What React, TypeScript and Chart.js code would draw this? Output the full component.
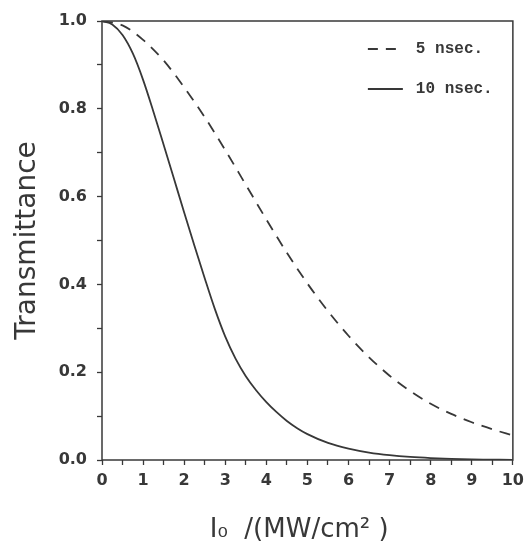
import React, { useEffect, useRef } from "react";
import { Chart, registerables } from "chart.js";

Chart.register(...registerables);

// ---- data ----
const intensity5ns = [0, 0.5, 1, 1.5, 2, 2.5, 3, 3.5, 4, 4.5, 5, 5.5, 6, 6.5, 7, 7.5, 8, 8.5, 9, 9.5, 10];
const trans5ns = [1.0, 0.99, 0.957, 0.91, 0.849, 0.781, 0.706, 0.627, 0.548, 0.472, 0.402, 0.339, 0.283, 0.234, 0.192, 0.157, 0.128, 0.105, 0.086, 0.07, 0.056];
const intensity10ns = [0, 0.25, 0.5, 0.75, 1, 1.25, 1.5, 1.75, 2, 2.25, 2.5, 2.75, 3, 3.25, 3.5, 3.75, 4, 4.25, 4.5, 4.75, 5, 5.5, 6, 6.5, 7, 7.5, 8, 9, 10];
const trans10ns = [1.0, 0.992, 0.968, 0.926, 0.866, 0.794, 0.718, 0.641, 0.564, 0.488, 0.414, 0.343, 0.281, 0.231, 0.191, 0.159, 0.132, 0.109, 0.089, 0.0725, 0.059, 0.039, 0.026, 0.017, 0.011, 0.007, 0.0045, 0.0015, 0.0005];
const seriesLabels = ["5 nsec.", "10 nsec."];
const xTitle = "I\u2080  /(MW/cm\u00B2 )  ";
const yTitle = "Transmittance";
const xRange = [0, 10];
const yRange = [0, 1];

const INK = "#383838";

const toPoints = (xs: number[], ys: number[]) => ys.map((y, i) => ({ x: xs[i], y }));

const frameAndLegend = {
  id: "frameAndLegend",
  afterDatasetsDraw(chart: any) {
    const { ctx, chartArea } = chart;
    ctx.save();
    ctx.strokeStyle = INK;
    ctx.lineWidth = 1.5;
    ctx.setLineDash([]);
    ctx.strokeRect(chartArea.left, chartArea.top, chartArea.right - chartArea.left, chartArea.bottom - chartArea.top);
    chart.data.datasets.forEach((ds: any, i: number) => {
      const y = chartArea.top + 28 + i * 40;
      const x0 = chartArea.right - 145;
      const dashed = ds.borderDash && ds.borderDash.length;
      ctx.strokeStyle = ds.borderColor;
      ctx.lineWidth = ds.borderWidth;
      ctx.setLineDash(dashed ? [10, 8] : []);
      ctx.beginPath();
      ctx.moveTo(x0, y);
      ctx.lineTo(x0 + (dashed ? 28 : 35), y);
      ctx.stroke();
      ctx.setLineDash([]);
      ctx.font = 'bold 16px "Liberation Mono", monospace';
      ctx.fillStyle = INK;
      ctx.textBaseline = "middle";
      ctx.textAlign = "left";
      ctx.fillText(ds.label, chartArea.right - 97, y);
    });
    ctx.restore();
  },
};

export default function App() {
  const ref = useRef<HTMLCanvasElement | null>(null);
  useEffect(() => {
    document.body.style.margin = "0";
    if (!ref.current) return;
    const chart = new Chart(ref.current, {
      type: "line",
      data: {
        datasets: [
          {
            label: seriesLabels[0],
            data: toPoints(intensity5ns, trans5ns),
            borderColor: INK,
            borderWidth: 1.8,
            borderDash: [11, 8],
            pointRadius: 0,
            cubicInterpolationMode: "monotone",
            fill: false,
          },
          {
            label: seriesLabels[1],
            data: toPoints(intensity10ns, trans10ns),
            borderColor: INK,
            borderWidth: 1.8,
            pointRadius: 0,
            cubicInterpolationMode: "monotone",
            fill: false,
          },
        ],
      },
      options: {
        animation: false,
        responsive: false,
        maintainAspectRatio: false,
        layout: { padding: { top: 21, right: 13, left: 0, bottom: 0 } },
        plugins: { legend: { display: false }, tooltip: { enabled: false } },
        scales: {
          x: {
            type: "linear",
            min: xRange[0],
            max: xRange[1],
            afterFit: (s: any) => { s.height = 82; },
            border: { display: false },
            grid: { display: true, drawOnChartArea: false, drawTicks: true, tickLength: 5, color: INK, tickWidth: 1.3 },
            ticks: {
              stepSize: 0.5,
              autoSkip: false,
              maxRotation: 0,
              padding: 6,
              color: INK,
              font: { family: '"DejaVu Sans", sans-serif', size: 16, weight: "bold" },
              callback: (v: any) => (Math.abs(v - Math.round(v)) < 1e-6 ? String(Math.round(v)) : ""),
            },
            title: {
              display: true,
              text: xTitle,
              color: INK,
              padding: 0,
              font: { family: '"DejaVu Sans", sans-serif', size: 26, lineHeight: 0.9 },
            },
          },
          y: {
            type: "linear",
            min: yRange[0],
            max: yRange[1],
            afterFit: (s: any) => { s.width = 102; },
            border: { display: false },
            grid: { display: true, drawOnChartArea: false, drawTicks: true, tickLength: 5, color: INK, tickWidth: 1.3 },
            ticks: {
              stepSize: 0.1,
              autoSkip: false,
              padding: 10,
              color: INK,
              font: { family: '"DejaVu Sans", sans-serif', size: 16, weight: "bold" },
              callback: (v: any) => {
                const k = Math.round(v * 10);
                return k % 2 === 0 ? (k / 10).toFixed(1) : "";
              },
            },
            title: {
              display: true,
              text: yTitle,
              color: INK,
              padding: { top: 11, bottom: 0 },
              font: { family: '"DejaVu Sans", sans-serif', size: 28 },
            },
          },
        },
      },
      plugins: [frameAndLegend],
    });
    return () => chart.destroy();
  }, []);
  return (
    <div style={{ width: 530, height: 542 }}>
      <canvas ref={ref} width={530} height={542} style={{ display: "block" }} />
    </div>
  );
}
